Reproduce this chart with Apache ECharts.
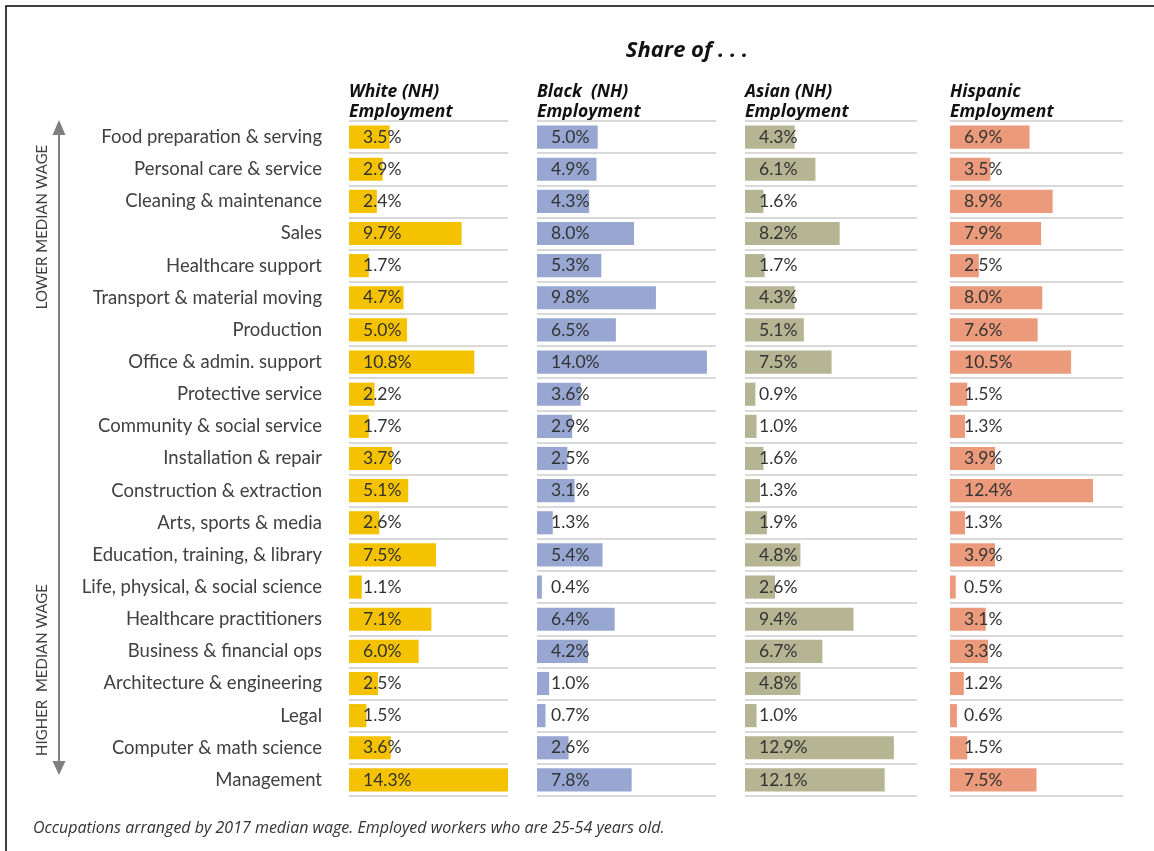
<!DOCTYPE html>
<html>
<head>
<meta charset="utf-8">
<script src="https://cdn.jsdelivr.net/npm/echarts@6/dist/echarts.min.js"></script>
<style>
html,body{margin:0;padding:0;background:#fff;}
#chart{width:1154px;height:851px;}
</style>
</head>
<body>
<div id="chart"></div>
<script>
const categories = [
  "Food preparation & serving","Personal care & service","Cleaning & maintenance","Sales",
  "Healthcare support","Transport & material moving","Production","Office & admin. support",
  "Protective service","Community & social service","Installation & repair","Construction & extraction",
  "Arts, sports & media","Education, training, & library","Life, physical, & social science",
  "Healthcare practitioners","Business & financial ops","Architecture & engineering","Legal",
  "Computer & math science","Management"
];
const whiteValues = [3.5,2.9,2.4,9.7,1.7,4.7,5.0,10.8,2.2,1.7,3.7,5.1,2.6,7.5,1.1,7.1,6.0,2.5,1.5,3.6,14.3];
const blackValues = [5.0,4.9,4.3,8.0,5.3,9.8,6.5,14.0,3.6,2.9,2.5,3.1,1.3,5.4,0.4,6.4,4.2,1.0,0.7,2.6,7.8];
const asianValues = [4.3,6.1,1.6,8.2,1.7,4.3,5.1,7.5,0.9,1.0,1.6,1.3,1.9,4.8,2.6,9.4,6.7,4.8,1.0,12.9,12.1];
const hispanicValues = [6.9,3.5,8.9,7.9,2.5,8.0,7.6,10.5,1.5,1.3,3.9,12.4,1.3,3.9,0.5,3.1,3.3,1.2,0.6,1.5,7.5];
const panelHeaders = [["White (NH)","Employment"],["Black  (NH)","Employment"],["Asian (NH)","Employment"],["Hispanic","Employment"]];
const title = "Share of . . .";
const footnote = "Occupations arranged by 2017 median wage. Employed workers who are 25-54 years old.";
const arrowTop = "LOWER MEDIAN WAGE";
const arrowBottom = "HIGHER  MEDIAN WAGE";

const panels = [
  {values: whiteValues, color:'#F4C200', left:349, width:159, max:13.7},
  {values: blackValues, color:'#97A7D1', left:537, width:179, max:14.75},
  {values: asianValues, color:'#B5B594', left:745, width:172, max:14.9},
  {values: hispanicValues, color:'#EB9B7B', left:950, width:173, max:15}
];
const FONT = 'Lato';
const HFONT = '"Open Sans"';
const TOP = 121, HEIGHT = 675;

const grids = [], xAxes = [], yAxes = [], series = [];
panels.forEach((p,i)=>{
  grids.push({left:p.left, top:TOP, width:p.width, height:HEIGHT});
  xAxes.push({gridIndex:i, type:'value', min:0, max:p.max, show:false});
  yAxes.push({
    gridIndex:i, type:'category', data:categories, inverse:true,
    axisLine:{show:false}, axisTick:{show:false},
    splitLine:{show:true, interval:0, lineStyle:{color:'#d9d9d9', width:2}},
    axisLabel:{show:i===0, interval:0, margin:27, color:'#404040', fontFamily:FONT, fontSize:18.5}
  });
  series.push({
    type:'bar', xAxisIndex:i, yAxisIndex:i, data:p.values, barCategoryGap:'28%',
    clip:true, silent:true,
    itemStyle:{color:p.color},
    label:{show:true, position:[14,'50%'], verticalAlign:'middle', align:'left',
      color:'#333333', fontFamily:FONT, fontSize:17.5,
      formatter:(d)=>d.value.toFixed(1)+'%'}
  });
});

const graphics = [
  {type:'rect', shape:{x:6,y:6,width:1200,height:900}, style:{fill:'none', stroke:'#000', lineWidth:1.5}, silent:true},
  {type:'text', x:687, y:51, style:{text:title, x:0, y:0, align:'center', verticalAlign:'middle', font:'italic bold 22px '+HFONT, fill:'#111'}},
  {type:'text', x:33, y:828, style:{text:footnote, x:0, y:0, verticalAlign:'middle', font:'italic 16px '+HFONT, fill:'#333'}},
  {type:'line', shape:{x1:59,y1:132,x2:59,y2:765}, style:{stroke:'#7f7f7f', lineWidth:2}},
  {type:'polygon', shape:{points:[[59,120],[52.5,135],[65.5,135]]}, style:{fill:'#7f7f7f'}},
  {type:'polygon', shape:{points:[[59,775],[52.5,761],[65.5,761]]}, style:{fill:'#7f7f7f'}},
  {type:'text', rotation:Math.PI/2, x:42, y:227, style:{text:arrowTop, x:0, y:0, align:'center', verticalAlign:'middle', font:'15px '+FONT, fill:'#404040'}},
  {type:'text', rotation:Math.PI/2, x:42, y:670, style:{text:arrowBottom, x:0, y:0, align:'center', verticalAlign:'middle', font:'15px '+FONT, fill:'#404040'}}
];
panels.forEach((p,i)=>{
  graphics.push({type:'text', x:p.left, y:92, style:{text:panelHeaders[i][0], x:0, y:0, verticalAlign:'middle', font:'italic bold 17.5px '+HFONT, fill:'#111'}});
  graphics.push({type:'text', x:p.left, y:112, style:{text:panelHeaders[i][1], x:0, y:0, verticalAlign:'middle', font:'italic bold 17.5px '+HFONT, fill:'#111'}});
});

const chart = echarts.init(document.getElementById('chart'), null, {renderer:'canvas'});
chart.setOption({
  animation:false,
  backgroundColor:'#fff',
  grid:grids, xAxis:xAxes, yAxis:yAxes, series:series,
  graphic:graphics
});
</script>
</body>
</html>
